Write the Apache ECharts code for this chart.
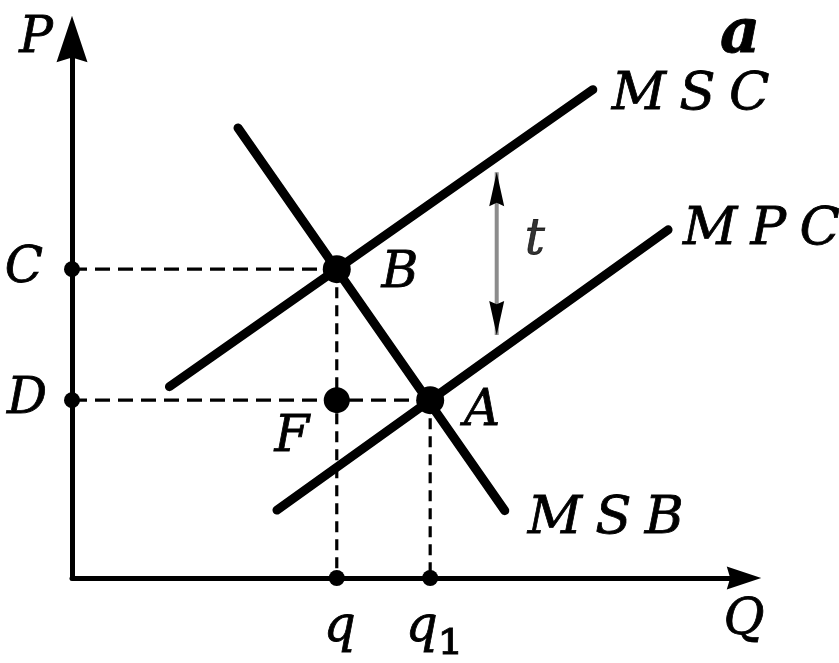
<!DOCTYPE html>
<html><head><meta charset="utf-8">
<script src="https://cdn.jsdelivr.net/npm/echarts@6/dist/echarts.min.js"></script>
<style>html,body{margin:0;padding:0;background:#fff}#c{width:839px;height:663px}</style>
</head><body><div id="c"></div>
<script>
// ---- data (Q horizontal, P vertical, 0..10 units) ----
const curveNames = ['MSC', 'MPC', 'MSB'];
const mscQ = [1.45, 7.75], mscP = [3.55, 9.06];
const mpcQ = [3.05, 8.87], mpcP = [1.26, 6.46];
const msbQ = [2.47, 6.44], msbP = [8.35, 1.25];
const pointNames = ['B', 'A', 'F'];
const pointQ = [3.94, 5.33, 3.94];
const pointP = [5.73, 3.30, 3.30];
const priceTickLabels = ['C', 'D'];
const priceTickValues = [5.73, 3.30];
const quantityTickLabels = ['q', 'q₁'];
const quantityTickValues = [3.94, 5.33];
const taxLabel = 't';
const taxQ = 6.32;
const taxRange = [4.51, 7.53];
const axisNames = ['Q', 'P'];
const panelLabel = 'a';

// ---- styles ----
const FONT = { fontFamily: 'DejaVu Serif', fontStyle: 'italic', fontSize: 50, color: '#000',
  textBorderColor: '#000', textBorderWidth: 0.8 };
const labelOffsets = { B: [63, 5], A: [52, 12], F: [-45, 38], C: [-48, 0], D: [-45, 0], q: [3, 50], 'q₁': [4, 50], t: [38, -13] };
const curveLabelOffsets = { MSC: [19, 6], MPC: [15, 0], MSB: [23, 9] };
const spaced = s => s.split('').join('\u2005');
const arrowPath = 'path://M0,0 L10,30 L0,27 L-10,30 Z';

function textLabel(name) {
  const isSub = name.length > 1;
  const lab = Object.assign({ show: true, position: 'inside', offset: labelOffsets[name],
    align: 'center', verticalAlign: 'middle' }, FONT);
  if (isSub) {
    lab.formatter = '{m|' + name[0] + '}{s|' + name.slice(1) + '}';
    lab.rich = {
      m: Object.assign({}, FONT),
      s: Object.assign({}, FONT, { fontStyle: 'normal', fontSize: 62, padding: [20, 0, 0, 0] })
    };
  } else {
    lab.formatter = name;
  }
  return lab;
}

const curves = [[mscQ, mscP], [mpcQ, mpcP], [msbQ, msbP]];
const series = [];

// dashed guide lines
const dashed = [
  [[0, priceTickValues[0]], [pointQ[0], pointP[0]], [15, 8]],
  [[0, priceTickValues[1]], [pointQ[1], pointP[1]], [15, 8]],
  [[pointQ[0], pointP[0]], [quantityTickValues[0], 0], [11, 7]],
  [[pointQ[1], pointP[1]], [quantityTickValues[1], 0], [11, 7]]
];
dashed.forEach(d => series.push({
  type: 'line', data: [d[0], d[1]], showSymbol: false, symbol: 'none', silent: true, z: 1,
  lineStyle: { color: '#000', width: 3.2, type: d[2] }
}));

// curves
curveNames.forEach((name, i) => series.push({
  type: 'line', name, data: curves[i][0].map((q, j) => [q, curves[i][1][j]]),
  showSymbol: false, symbol: 'none', silent: true, z: 3,
  lineStyle: { color: '#000', width: 9, cap: 'round' },
  endLabel: Object.assign({ show: true, formatter: spaced(name), align: 'left', verticalAlign: 'middle',
    distance: 0, offset: curveLabelOffsets[name] }, FONT, { fontSize: 53 })
}));

// tax arrow
series.push({
  type: 'line', silent: true, z: 2,
  data: [
    { value: [taxQ, taxRange[0]], symbolRotate: 180, symbolOffset: [0, '-50%'] },
    { value: [taxQ, taxRange[1]], symbolRotate: 0, symbolOffset: [0, '50%'] }
  ],
  symbol: arrowPath, symbolSize: [15, 34], showSymbol: true,
  itemStyle: { color: '#000', opacity: 1 },
  lineStyle: { color: '#8c8c8c', width: 4 }
});
series.push({
  type: 'scatter', silent: true, z: 5, symbolSize: 0,
  data: [{ value: [taxQ, (taxRange[0] + taxRange[1]) / 2], label: textLabel(taxLabel) }]
});

// equilibrium points
series.push({
  type: 'scatter', silent: true, z: 6,
  data: pointNames.map((n, i) => ({ value: [pointQ[i], pointP[i]], symbolSize: n === 'F' ? 26 : 28, label: textLabel(n) })),
  itemStyle: { color: '#000', opacity: 1 }
});

// axis dots
series.push({
  type: 'scatter', silent: true, z: 6, clip: false, symbolSize: 16,
  data: priceTickLabels.map((n, i) => ({ value: [0, priceTickValues[i]], label: textLabel(n) }))
    .concat(quantityTickLabels.map((n, i) => ({ value: [quantityTickValues[i], 0], label: textLabel(n) }))),
  itemStyle: { color: '#000', opacity: 1 }
});

const chart = echarts.init(document.getElementById('c'), null, { renderer: 'canvas' });
chart.setOption({
  animation: false,
  backgroundColor: '#fff',
  title: { text: panelLabel, left: 715, top: 0, textStyle: Object.assign({}, FONT, { fontWeight: 'bold', fontSize: 62 }) },
  grid: { left: 72, right: 95, top: 39, bottom: 85, containLabel: false, outerBoundsMode: 'none' },
  xAxis: {
    type: 'value', min: 0, max: 10, name: axisNames[0], nameLocation: 'end', nameGap: 0,
    nameTextStyle: Object.assign({}, FONT, { align: 'center', verticalAlign: 'top', padding: [18, 0, 0, 0] }),
    axisLine: { show: true, onZero: false, symbol: ['none', arrowPath], symbolSize: [23, 68], lineStyle: { color: '#000', width: 5 } },
    axisTick: { show: false }, axisLabel: { show: false }, splitLine: { show: false }
  },
  yAxis: {
    type: 'value', min: 0, max: 10, name: axisNames[1], nameLocation: 'end', nameGap: 0,
    nameTextStyle: Object.assign({}, FONT, { align: 'right', verticalAlign: 'middle', padding: [8, 19, 0, 0] }),
    axisLine: { show: true, onZero: false, symbol: ['none', arrowPath], symbolSize: [31, 52], lineStyle: { color: '#000', width: 5 } },
    axisTick: { show: false }, axisLabel: { show: false }, splitLine: { show: false }
  },
  series
});
</script></body></html>
